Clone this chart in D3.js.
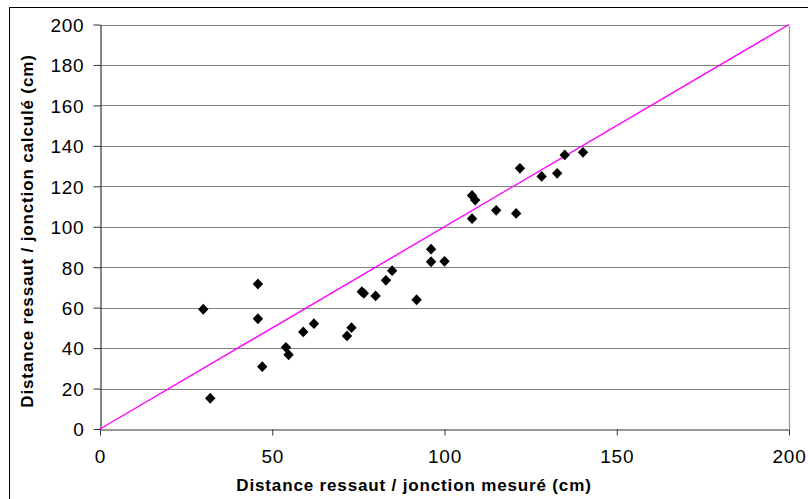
<!DOCTYPE html>
<html><head><meta charset="utf-8">
<script src="https://cdn.jsdelivr.net/npm/d3@7"></script>
<style>body{margin:0;background:#fff}svg{display:block}</style>
</head><body>
<svg id="c" width="808" height="499"></svg>
<script>
const measured = [29.97,32.0,45.84,45.84,47.1,53.97,54.75,59.0,62.1,71.7,73.0,76.0,76.6,80.0,83.0,84.8,91.9,96.1,96.1,100.0,108.0,108.0,108.9,115.0,120.8,121.9,128.2,132.7,134.9,140.2];
const computed = [59.2,15.2,71.7,54.5,30.8,40.4,36.7,48.0,52.1,46.0,50.1,67.9,67.1,65.8,73.5,78.3,63.9,88.9,82.7,82.9,104.0,115.5,113.2,108.1,106.6,128.9,124.9,126.4,135.5,136.8];
const xTicks = [0,50,100,150,200];
const yTicks = [0,20,40,60,80,100,120,140,160,180,200];
const refLine = [[0,0],[200,200]];
const xTitle = "Distance ressaut / jonction mesuré (cm)";
const yTitle = "Distance ressaut / jonction calculé (cm)";

const svg = d3.select("#c");
const L=100,R=789,T=24.5,B=429;
const x = d3.scaleLinear().domain([0,200]).range([L,R]);
const y = d3.scaleLinear().domain([0,200]).range([B,T]);
const font = "Liberation Sans, Arial, sans-serif";

// outer frame
svg.append("rect").attr("x",9.5).attr("y",7.5).attr("width",820).attr("height",520)
  .attr("fill","none").attr("stroke","#000").attr("stroke-width",1);

// gridlines
svg.append("g").selectAll("line").data(yTicks.filter(d=>d>0)).join("line")
  .attr("x1",L).attr("x2",R).attr("y1",d=>Math.round(y(d))+0.5).attr("y2",d=>Math.round(y(d))+0.5)
  .attr("stroke","#808080").attr("stroke-width",1);
// right border
svg.append("line").attr("x1",R+0.5).attr("x2",R+0.5).attr("y1",Math.round(T)+0.5).attr("y2",B)
  .attr("stroke","#999").attr("stroke-width",1.3);

// axes
const xAxis = svg.append("g").attr("transform",`translate(0,${B+0.5})`)
  .call(d3.axisBottom(x).tickValues(xTicks).tickSize(6).tickPadding(14).tickSizeOuter(0));
const yAxis = svg.append("g").attr("transform",`translate(${L+0.5},0)`)
  .call(d3.axisLeft(y).tickValues(yTicks).tickSize(7).tickPadding(9).tickSizeOuter(0));
[xAxis,yAxis].forEach(a=>{
  a.select(".domain").attr("stroke","#333").attr("stroke-width",1.2);
  a.selectAll(".tick line").attr("stroke","#333");
  a.selectAll("text").attr("font-family",font).attr("font-size",19).attr("letter-spacing","0.8px").attr("fill","#000");
});
yAxis.selectAll("text").attr("dy","0.36em");

// reference line
svg.append("path").datum(refLine)
  .attr("d",d3.line().x(d=>x(d[0])).y(d=>y(d[1])))
  .attr("stroke","#ff00ff").attr("stroke-width",1.4).attr("fill","none");

// points
const diamond = {draw(ctx,size){const w=5.2,h=5.4;ctx.moveTo(0,-h);ctx.lineTo(w,0);ctx.lineTo(0,h);ctx.lineTo(-w,0);ctx.closePath();}};
const sym = d3.symbol().type(diamond);
svg.append("g").selectAll("path").data(measured.map((m,i)=>[m,computed[i]])).join("path")
  .attr("d",sym)
  .attr("transform",d=>`translate(${x(d[0])},${y(d[1])})`)
  .attr("fill","#000");

// titles
svg.append("text").attr("x",414).attr("y",491).attr("text-anchor","middle")
  .attr("font-family",font).attr("font-weight","bold").attr("font-size",17).attr("letter-spacing","0.85px").text(xTitle);
svg.append("text").attr("transform","translate(33,231) rotate(-90)").attr("text-anchor","middle")
  .attr("font-family",font).attr("font-weight","bold").attr("font-size",17).attr("letter-spacing","0.85px").text(yTitle);
</script>
</body></html>
